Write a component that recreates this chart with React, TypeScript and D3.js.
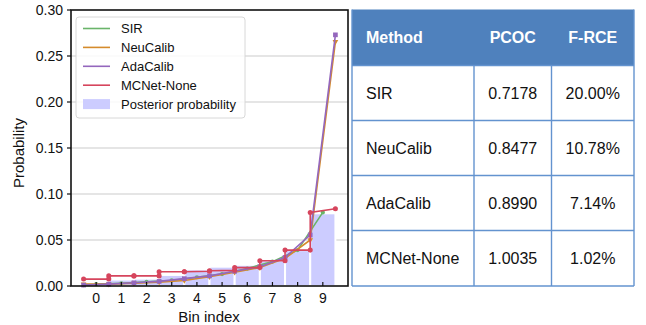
import React, { useEffect, useRef } from 'react';
import * as d3 from 'd3';

// Bin centres and the bar edges between them
const bins = [0, 1, 2, 3, 4, 5, 6, 7, 8, 9];
const edges = [-0.5, 0.5, 1.5, 2.5, 3.5, 4.5, 5.5, 6.5, 7.5, 8.5, 9.5];

const posterior = [0.004, 0.007, 0.008, 0.012, 0.018, 0.021, 0.023, 0.028, 0.039, 0.079];
const sirValues = [0.002, 0.003, 0.0045, 0.006, 0.0095, 0.013, 0.019, 0.0265, 0.039, 0.080];
const neuCalibValues = [0.002, 0.002, 0.003, 0.004, 0.006, 0.010, 0.015, 0.020, 0.030, 0.050, 0.2656];
const adaCalibValues = [0.001, 0.002, 0.0035, 0.005, 0.008, 0.011, 0.016, 0.021, 0.031, 0.0555, 0.273];
// MCNet-None: value at the left and right edge of every bin
const mcnetLeft = [0.0075, 0.011, 0.011, 0.0155, 0.0155, 0.0165, 0.020, 0.0275, 0.039, 0.080];
const mcnetRight = [0.0075, 0.011, 0.011, 0.0155, 0.016, 0.017, 0.020, 0.0275, 0.039, 0.084];

const yTicks = [0, 0.05, 0.1, 0.15, 0.2, 0.25, 0.3];

const tableHeader = ['Method', 'PCOC', 'F-RCE'];
const methods = ['SIR', 'NeuCalib', 'AdaCalib', 'MCNet-None'];
const pcoc = ['0.7178', '0.8477', '0.8990', '1.0035'];
const frce = ['20.00%', '10.78%', '7.14%', '1.02%'];

const colors = {
  sir: '#6ab46a',
  neu: '#d58b2c',
  ada: '#9467bd',
  mc: '#d6455d'
};

const font = 'Liberation Sans, Arial, sans-serif';

export default function App() {
  const ref = useRef<SVGSVGElement>(null);

  useEffect(() => {
    if (!ref.current) return;
    const svg = d3.select(ref.current);
    svg.selectAll('*').remove();

    const x = d3.scaleLinear().domain([-1, 10]).range([71, 348]);
    const y = d3.scaleLinear().domain([0, 0.3]).range([286, 10]);

    const plot = svg.append('g');

    // grid
    plot.selectAll('line.grid')
      .data(yTicks.slice(1, -1))
      .enter()
      .append('line')
      .attr('x1', x(-1)).attr('x2', x(10))
      .attr('y1', d => y(d)).attr('y2', d => y(d))
      .attr('stroke', '#dcdcdc')
      .attr('stroke-width', 1.3);

    // posterior bars
    plot.selectAll('rect.bar')
      .data(bins)
      .enter()
      .append('rect')
      .attr('x', d => x(d - 0.5))
      .attr('width', x(1) - x(0))
      .attr('y', d => y(posterior[d]))
      .attr('height', d => y(0) - y(posterior[d]))
      .attr('fill', '#ccccff')
      .attr('stroke', '#ffffff')
      .attr('stroke-width', 2);

    const line = d3.line<[number, number]>().x(d => x(d[0])).y(d => y(d[1]));

    const series = [
      { pts: bins.map((b, i) => [b, sirValues[i]] as [number, number]), color: colors.sir, sym: d3.symbolCircle, size: 14 },
      { pts: edges.map((e, i) => [e, neuCalibValues[i]] as [number, number]), color: colors.neu, sym: d3.symbolTriangle, size: 14, flip: true },
      { pts: edges.map((e, i) => [e, adaCalibValues[i]] as [number, number]), color: colors.ada, sym: d3.symbolSquare, size: 22 },
      {
        pts: bins.flatMap((b, i) => [[b - 0.5, mcnetLeft[i]], [b + 0.5, mcnetRight[i]]] as [number, number][]),
        color: colors.mc, sym: d3.symbolCircle, size: 20
      }
    ];

    series.forEach(s => {
      plot.append('path')
        .attr('d', line(s.pts))
        .attr('fill', 'none')
        .attr('stroke', s.color)
        .attr('stroke-width', 1.6);
      plot.selectAll(null)
        .data(s.pts)
        .enter()
        .append('path')
        .attr('d', d3.symbol().type(s.sym).size(s.size)())
        .attr('transform', d => `translate(${x(d[0])},${y(d[1])})${s.flip ? ' rotate(180)' : ''}`)
        .attr('fill', s.color);
    });

    // frame
    plot.append('rect')
      .attr('x', 71).attr('y', 10)
      .attr('width', 277).attr('height', 276)
      .attr('fill', 'none')
      .attr('stroke', '#111')
      .attr('stroke-width', 1.6);

    // y ticks (outward) + labels
    yTicks.forEach(t => {
      plot.append('line')
        .attr('x1', 67).attr('x2', 71)
        .attr('y1', y(t)).attr('y2', y(t))
        .attr('stroke', '#111').attr('stroke-width', 1.2);
      plot.append('text')
        .attr('x', 63).attr('y', y(t))
        .attr('dy', '0.36em')
        .attr('text-anchor', 'end')
        .attr('font-size', 14)
        .attr('font-family', font)
        .attr('fill', '#111')
        .text(t.toFixed(2));
    });

    // x ticks (inward) + labels
    bins.forEach(b => {
      plot.append('line')
        .attr('x1', x(b)).attr('x2', x(b))
        .attr('y1', 286).attr('y2', 282)
        .attr('stroke', '#111').attr('stroke-width', 1.2);
      plot.append('text')
        .attr('x', x(b)).attr('y', 303)
        .attr('text-anchor', 'middle')
        .attr('font-size', 14)
        .attr('font-family', font)
        .attr('fill', '#111')
        .text(String(b));
    });

    plot.append('text')
      .attr('x', 209).attr('y', 322)
      .attr('text-anchor', 'middle')
      .attr('font-size', 15)
      .attr('font-family', font)
      .attr('fill', '#111')
      .text('Bin index');

    plot.append('text')
      .attr('transform', 'translate(24,153) rotate(-90)')
      .attr('text-anchor', 'middle')
      .attr('font-size', 15)
      .attr('font-family', font)
      .attr('fill', '#111')
      .text('Probability');

    // legend
    const legend = plot.append('g');
    legend.append('rect')
      .attr('x', 76).attr('y', 17)
      .attr('width', 169).attr('height', 101)
      .attr('rx', 3)
      .attr('fill', '#ffffff').attr('fill-opacity', 0.85)
      .attr('stroke', '#d8d8d8');
    const legendItems = [
      { label: 'SIR', color: colors.sir },
      { label: 'NeuCalib', color: colors.neu },
      { label: 'AdaCalib', color: colors.ada },
      { label: 'MCNet-None', color: colors.mc },
      { label: 'Posterior probability', color: null }
    ];
    legendItems.forEach((item, i) => {
      const cy = 28.5 + i * 18.9;
      if (item.color) {
        legend.append('line')
          .attr('x1', 83).attr('x2', 110)
          .attr('y1', cy).attr('y2', cy)
          .attr('stroke', item.color).attr('stroke-width', 1.6);
      } else {
        legend.append('rect')
          .attr('x', 83).attr('y', cy - 5)
          .attr('width', 27).attr('height', 10)
          .attr('fill', '#ccccff');
      }
      legend.append('text')
        .attr('x', 121).attr('y', cy)
        .attr('dy', '0.36em')
        .attr('font-size', 13)
        .attr('font-family', font)
        .attr('fill', '#111')
        .text(item.label);
    });

    // table
    const table = svg.append('g');
    const colX = [352, 474, 551.5, 634];
    const rowY = [9.5, 65.5, 120.5, 175.5, 230.5, 286];
    table.append('rect')
      .attr('x', colX[0]).attr('y', rowY[0])
      .attr('width', colX[3] - colX[0]).attr('height', rowY[1] - rowY[0])
      .attr('fill', '#4f81bd');
    const rows = methods.map((m, i) => [m, pcoc[i], frce[i]]);
    const allRows = [tableHeader, ...rows];
    allRows.forEach((row, r) => {
      const cy = (rowY[r] + rowY[r + 1]) / 2;
      row.forEach((cell, c) => {
        const left = c === 0;
        table.append('text')
          .attr('x', left ? colX[0] + 14 : (colX[c] + colX[c + 1]) / 2)
          .attr('y', cy)
          .attr('dy', '0.36em')
          .attr('text-anchor', left ? 'start' : 'middle')
          .attr('font-size', 16)
          .attr('font-weight', r === 0 ? 'bold' : 'normal')
          .attr('font-family', font)
          .attr('fill', r === 0 ? '#ffffff' : '#111')
          .text(cell);
      });
    });
    // borders
    const border = '#6393cf';
    rowY.slice(1).forEach(yy => {
      table.append('line')
        .attr('x1', colX[0]).attr('x2', colX[3])
        .attr('y1', yy).attr('y2', yy)
        .attr('stroke', border).attr('stroke-width', 1.4);
    });
    colX.forEach((xx, i) => {
      table.append('line')
        .attr('x1', xx).attr('x2', xx)
        .attr('y1', i === 0 || i === 3 ? rowY[0] : rowY[1]).attr('y2', rowY[5])
        .attr('stroke', border).attr('stroke-width', 1.4);
    });
  }, []);

  return (
    <svg
      ref={ref}
      width={646}
      height={325}
      style={{ position: 'absolute', left: 0, top: 0, background: '#fff' }}
    />
  );
}
